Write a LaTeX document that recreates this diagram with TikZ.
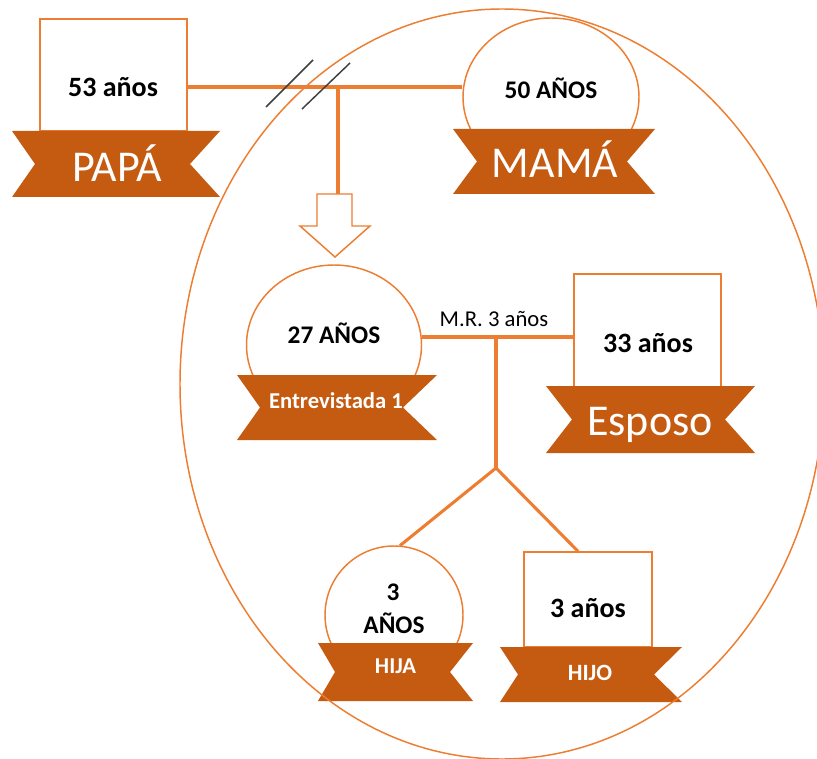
\documentclass[tikz,border=0pt]{standalone}
\usepackage{fontspec}
\setmainfont{Carlito}
\usetikzlibrary{shapes.geometric}
\definecolor{lineor}{HTML}{ED7D31}
\definecolor{ribor}{HTML}{C55A11}
\definecolor{hatchgray}{HTML}{404040}
\tikzset{
  thinor/.style={draw=lineor, line width=1.1pt},
  conn/.style={draw=lineor, line width=2.3pt},
  boxnode/.style={thinor, fill=white, rectangle, inner sep=0pt},
  ellnode/.style={thinor, fill=white, ellipse, inner sep=0pt},
  ribbonfill/.style={fill=ribor},
  agebig/.style={font=\bfseries\fontsize{21}{24}\selectfont, anchor=base, inner sep=0pt},
  agemid/.style={font=\bfseries\fontsize{19}{22}\selectfont, anchor=base, inner sep=0pt},
  bigname/.style={font=\fontsize{33}{36}\selectfont, text=white, anchor=base, inner sep=0pt},
  smallname/.style={font=\bfseries\fontsize{17}{20}\selectfont, text=white, anchor=base, inner sep=0pt},
  mrtxt/.style={font=\fontsize{17}{20}\selectfont, anchor=base, inner sep=0pt},
  hatchline/.style={draw=hatchgray, line width=1.1pt},
}
\newcommand{\ribbonpath}[6]{%
  \fill[ribbonfill] (#1,#3) -- (#2,#3) -- (#6,{(#3+#4)/2}) -- (#2,#4) -- (#1,#4) -- (#5,{(#3+#4)/2}) -- cycle;}
\begin{document}
\begin{tikzpicture}[x=0.75pt,y=-0.75pt]
\useasboundingbox (0,0) rectangle (817,759);

% PAPA
\node[boxnode, minimum width=147*0.75pt, minimum height=112*0.75pt] (papabox) at (113.5,75) {};
\node[agebig] (papaage) at (113,97) {53 años};
\ribbonpath{12}{220}{131}{197}{35}{190}
\node[bigname] (papaname) at (117,182) {PAPÁ};

% MAMA
\node[ellnode, minimum width=176*0.75pt, minimum height=158*0.75pt] (mama) at (551,97) {};
\node[agemid] (mamaage) at (551,99) {50 AÑOS};
\ribbonpath{453}{655}{129}{194}{477}{627}
\node[bigname] (mamaname) at (555,178) {MAMÁ};

% parents connection
\coordinate (j1) at (338,87);
\coordinate (arrtop) at (338,194);
\draw[conn] (papabox.east |- j1) -- (mama.west |- j1);
\draw[conn] (j1) -- (arrtop);
\draw[hatchline] (266,107) -- (313,60);
\draw[hatchline] (302,109) -- (350,63);
\filldraw[fill=white, draw=lineor, line width=1.1pt]
  (317,194) -- (352,194) -- (352,226) -- (370,226) -- (335,257) -- (300,226) -- (317,226) -- cycle;

% Entrevistada
\node[ellnode, minimum width=175*0.75pt, minimum height=160*0.75pt] (ent) at (334,345) {};
\node[agemid] (entage) at (334,343) {27 AÑOS};
\ribbonpath{237}{437}{375}{440}{260}{403}
\node[smallname] (entname) at (336,408) {Entrevistada 1};

% Esposo
\node[boxnode, minimum width=147*0.75pt, minimum height=113*0.75pt] (espbox) at (647.5,330.5) {};
\node[agebig] (espage) at (648,352) {33 años};
\ribbonpath{546}{755}{386}{453}{572}{725}
\node[bigname] (espname) at (650,435) {Esposo};

% couple connection
\coordinate (j2) at (496,337);
\coordinate (j3) at (496,468);
\draw[conn] (ent.east |- j2) -- (espbox.west |- j2);
\node[mrtxt] (mr) at (494,326) {M.R. 3 años};
\draw[conn] (j2) -- (j3);

% HIJA
\node[ellnode, minimum width=138*0.75pt, minimum height=138*0.75pt] (hija) at (394,615) {};
\node[agemid] (hijanum) at (393,600) {3};
\node[agemid] (hijaage) at (394,633) {AÑOS};
\ribbonpath{318}{473}{643}{701}{335}{450}
\node[smallname] (hijaname) at (395.5,673) {HIJA};

% HIJO
\node[boxnode, minimum width=128*0.75pt, minimum height=95*0.75pt] (hijobox) at (588,599.5) {};
\node[agebig] (hijoage) at (588,617) {3 años};
\ribbonpath{500}{682}{647}{702}{518}{654}
\node[smallname, font=\bfseries\fontsize{17.5}{20}\selectfont] (hijoname) at (590,680) {HIJO};

\draw[conn] (j3) -- (hija.85);
\draw[conn] (j3) -- ([xshift=-7.5pt]hijobox.north);

% household ellipse
\begin{scope}
\clip (0,0) rectangle (817,759);
\draw[lineor, line width=1.1pt] (502,384) ellipse [x radius=322, y radius=375];
\end{scope}
\end{tikzpicture}
\end{document}
